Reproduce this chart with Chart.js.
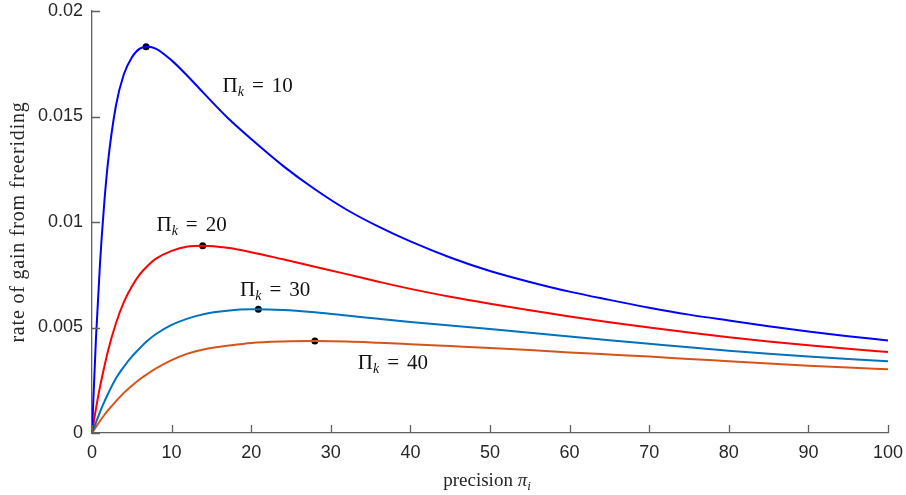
<!DOCTYPE html>
<html>
<head>
<meta charset="utf-8">
<script src="https://cdn.jsdelivr.net/npm/chart.js@4/dist/chart.umd.min.js"></script>
<style>
  html, body { margin: 0; padding: 0; background: #fff; }
  #c { display: block; }
</style>
</head>
<body>
<canvas id="c" width="906" height="495"></canvas>
<script>
// precision pi_i (x samples)
const precision = [0, 0.5, 1, 1.5, 2, 3, 4, 5, 6, 7, 8, 10, 12, 14, 17, 20, 24, 28, 32, 36, 40, 45, 50, 55, 60, 65, 70, 75, 80, 85, 90, 95, 100];

// rate of gain from freeriding, one series per Pi_k
const gain10 = [0, 0.0045, 0.0080, 0.0107, 0.0128, 0.0155, 0.0170, 0.0178, 0.01822, 0.0183, 0.01822, 0.01766, 0.01692, 0.01612, 0.01495, 0.01393, 0.01266, 0.01155, 0.01058, 0.00978, 0.00908, 0.00832, 0.00768, 0.00716, 0.0067, 0.00631, 0.00594, 0.00561, 0.00533, 0.00506, 0.00481, 0.00459, 0.00438];
const gain20 = [0, 0.00116, 0.00218, 0.00306, 0.00388, 0.00519, 0.0062, 0.00694, 0.00752, 0.00793, 0.00825, 0.00863, 0.00884, 0.00888, 0.00878, 0.00857, 0.00823, 0.00788, 0.00753, 0.00717, 0.00683, 0.00646, 0.00613, 0.00582, 0.00552, 0.00525, 0.005, 0.00476, 0.00454, 0.00434, 0.00416, 0.00399, 0.00384];
const gain30 = [0, 0.0005, 0.00099, 0.00144, 0.00185, 0.00258, 0.00314, 0.00362, 0.00402, 0.00438, 0.00468, 0.00512, 0.00542, 0.00563, 0.00579, 0.00586, 0.00583, 0.00572, 0.00557, 0.00541, 0.00526, 0.0051, 0.00493, 0.00475, 0.00457, 0.0044, 0.00423, 0.00406, 0.0039, 0.00376, 0.00363, 0.00351, 0.0034];
const gain40 = [0, 0.00029, 0.00057, 0.00083, 0.00107, 0.0015, 0.0019, 0.00224, 0.00255, 0.00281, 0.00305, 0.00345, 0.00376, 0.00396, 0.00413, 0.00427, 0.00434, 0.00436, 0.00434, 0.00428, 0.00421, 0.00412, 0.00403, 0.00393, 0.00382, 0.00372, 0.00362, 0.00351, 0.0034, 0.00329, 0.00319, 0.0031, 0.00302];

// maxima marked with dots
const peakX = [6.8, 13.9, 20.9, 28.0];
const peakY = [0.0183, 0.00888, 0.00586, 0.00436];

const seriesNames = ["10", "20", "30", "40"];

const xTicks = [0, 10, 20, 30, 40, 50, 60, 70, 80, 90, 100];
const xTickLabels = ["0", "10", "20", "30", "40", "50", "60", "70", "80", "90", "100"];
const yTicks = [0, 0.005, 0.01, 0.015, 0.02];
const yTickLabels = ["0", "0.005", "0.01", "0.015", "0.02"];

const AXIS = "#262626";
const AXIS_LINE = "#606060";
const SERIF = "'Liberation Serif', 'DejaVu Serif', serif";
const SANS = "'Liberation Sans', Arial, sans-serif";

function pts(ys) {
  return precision.map((x, i) => ({ x, y: ys[i] }));
}

function line(label, ys, color) {
  return {
    label,
    data: pts(ys),
    borderColor: color,
    borderWidth: 2,
    pointRadius: 0,
    fill: false,
    cubicInterpolationMode: "monotone",
  };
}

// draw math-ish text pieces left to right; returns width
function drawPieces(ctx, x, y, pieces, measureOnly) {
  let cx = x;
  for (const p of pieces) {
    ctx.font = p.font;
    if (!measureOnly) ctx.fillText(p.t, cx, y + (p.dy || 0));
    cx += ctx.measureText(p.t).width + (p.gap || 0);
  }
  return cx - x;
}

const BIG = "21px " + SERIF;
const SUB = "italic 14px " + SERIF;

function piLabel(n) {
  return [
    { t: "\u03A0", font: BIG },
    { t: "k", font: SUB, dy: 4, gap: 8 },
    { t: "=", font: BIG, gap: 8 },
    { t: n, font: BIG },
  ];
}

// left edge / baseline of each curve label, in data units
const labelPos = [
  { x: 16.4, y: 0.01618 },
  { x: 8.1, y: 0.00956 },
  { x: 18.6, y: 0.00649 },
  { x: 33.4, y: 0.00302 },
];

const decor = {
  id: "decor",
  afterDraw(chart) {
    const { ctx, chartArea } = chart;
    const xs = chart.scales.x, ys = chart.scales.y;
    ctx.save();
    // inward ticks
    ctx.strokeStyle = AXIS_LINE;
    ctx.lineWidth = 1.3;
    ctx.beginPath();
    for (const v of xTicks) {
      const px = Math.round(xs.getPixelForValue(v)) + 0.5;
      ctx.moveTo(px, chartArea.bottom);
      ctx.lineTo(px, chartArea.bottom - 8);
    }
    for (const v of yTicks) {
      const py = Math.round(ys.getPixelForValue(v)) + 0.5;
      ctx.moveTo(chartArea.left, py);
      ctx.lineTo(chartArea.left + 8, py);
    }
    ctx.stroke();

    // curve labels
    ctx.fillStyle = "#111";
    ctx.textBaseline = "alphabetic";
    ctx.textAlign = "left";
    seriesNames.forEach((n, i) => {
      const px = xs.getPixelForValue(labelPos[i].x);
      const py = ys.getPixelForValue(labelPos[i].y);
      drawPieces(ctx, px, py, piLabel(n));
    });

    // x title: precision pi_i
    const xt = [
      { t: "precision ", font: "19px " + SERIF },
      { t: "\u03C0", font: "italic 19px " + SERIF },
      { t: "i", font: "italic 13px " + SERIF, dy: 4 },
    ];
    const w = drawPieces(ctx, 0, 0, xt, true);
    const cx = (chartArea.left + chartArea.right) / 2;
    ctx.fillStyle = AXIS;
    drawPieces(ctx, cx - w / 2 - 3, 486, xt);

    // y title
    ctx.translate(24, (chartArea.top + chartArea.bottom) / 2);
    ctx.rotate(-Math.PI / 2);
    ctx.textAlign = "center";
    ctx.font = "20px " + SERIF;
    ctx.letterSpacing = "0.8px";
    ctx.fillText("rate of gain from freeriding", 0, 0);
    ctx.restore();
  },
};

new Chart(document.getElementById("c"), {
  type: "line",
  data: {
    datasets: [
      line("\u03A0k = 10", gain10, "#0000FF"),
      line("\u03A0k = 20", gain20, "#FF0000"),
      line("\u03A0k = 30", gain30, "#0072BD"),
      line("\u03A0k = 40", gain40, "#D95319"),
      {
        type: "scatter",
        label: "maximum",
        data: peakX.map((x, i) => ({ x, y: peakY[i] })),
        pointRadius: 3.5,
        pointBackgroundColor: "#000",
        pointBorderColor: "#000",
        pointBorderWidth: 0,
        showLine: false,
      },
    ],
  },
  options: {
    responsive: false,
    animation: false,
    layout: { padding: { top: 11, right: 18, left: 0, bottom: 0 } },
    plugins: { legend: { display: false }, tooltip: { enabled: false } },
    scales: {
      x: {
        type: "linear",
        min: 0,
        max: 100,
        afterBuildTicks: (s) => { s.ticks = xTicks.map((v) => ({ value: v })); },
        afterFit: (s) => {
          s.height = 62;
          s.paddingLeft = 0; s.paddingRight = 0; s.paddingTop = 0; s.paddingBottom = 0;
        },
        ticks: {
          callback: (v) => xTickLabels[xTicks.indexOf(v)],
          font: { family: SANS, size: 18 },
          color: AXIS,
          padding: 9,
          maxRotation: 0,
        },
        grid: { display: false, drawTicks: false },
        border: { display: true, color: AXIS_LINE, width: 1.3 },
      },
      y: {
        min: 0,
        max: 0.02,
        afterBuildTicks: (s) => { s.ticks = yTicks.map((v) => ({ value: v })); },
        afterFit: (s) => {
          s.width = 92;
          s.paddingLeft = 0; s.paddingRight = 0; s.paddingTop = 0; s.paddingBottom = 0;
        },
        ticks: {
          callback: (v) => yTickLabels[yTicks.indexOf(v)],
          font: { family: SANS, size: 18 },
          color: AXIS,
          padding: 9,
        },
        grid: { display: false, drawTicks: false },
        border: { display: true, color: AXIS_LINE, width: 1.3 },
      },
    },
  },
  plugins: [decor],
});
</script>
</body>
</html>
